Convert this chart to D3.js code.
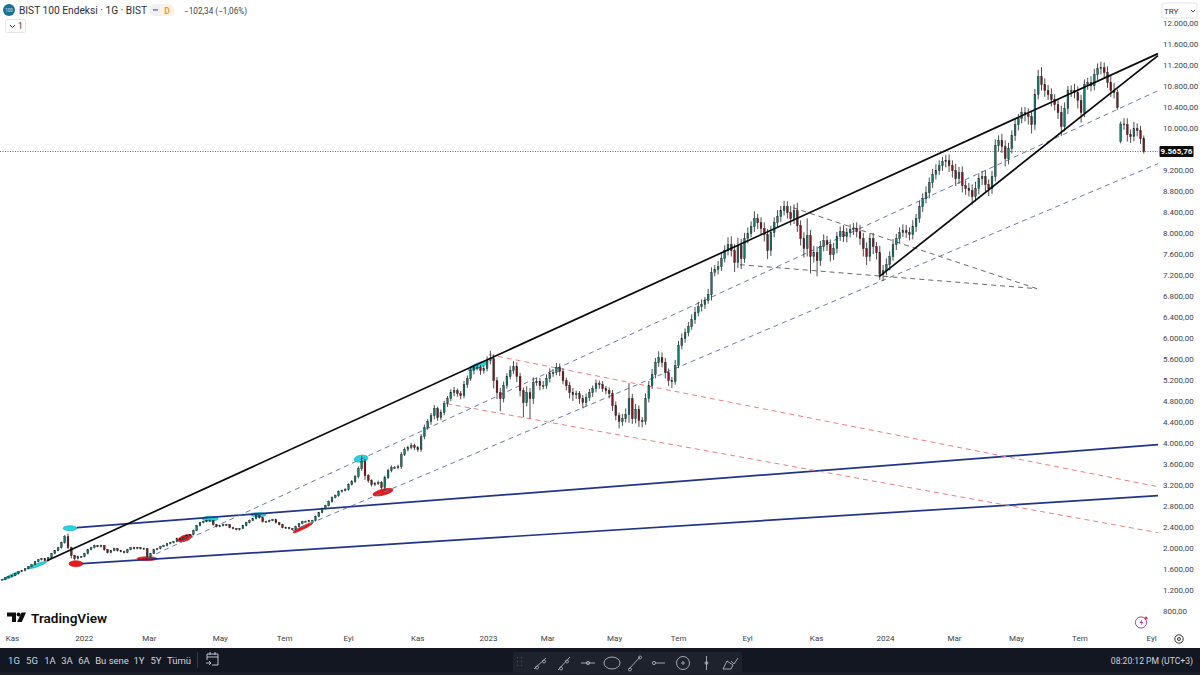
<!DOCTYPE html>
<html>
<head>
<meta charset="utf-8">
<style>
    html, body { margin: 0; padding: 0; background: #fff; }
    svg { display: block; font-family: Roboto, sans-serif; }
    .axis path, .axis line { display: none; }
    .axis text { fill: #3c3f47; font-size: 8px; font-family: Roboto, sans-serif; }
</style>
<script src="https://cdn.jsdelivr.net/npm/d3@7/dist/d3.min.js"></script>
</head>
<body>
<svg width="1200" height="675"></svg>
<script>
// closes, one candle every few sessions
var closes = [
    1410,1448,1467,1486,1524,1562,1581,1619,1658,1696,1753,1791,1810,1772,1829,1905,1962,2019,2115,2229,
    2019,1867,1810,1848,1848,1905,1981,2019,2057,2038,2057,1981,1924,1962,2000,1962,1943,1924,1981,2019,
    2000,2019,2000,2000,1848,1905,1981,2000,2038,2057,2095,2114,2133,2191,2172,2210,2248,2267,2343,2438,
    2496,2515,2534,2534,2457,2419,2438,2457,2457,2400,2381,2362,2381,2438,2496,2534,2572,2629,2591,2515,
    2515,2534,2553,2496,2457,2400,2400,2381,2362,2419,2477,2515,2515,2534,2534,2610,2686,2762,2819,2896,
    2972,3010,3086,3105,3124,3220,3277,3372,3524,3658,3391,3296,3220,3239,3258,3162,3353,3486,3543,3543,
    3562,3791,3886,3925,3962,3925,3886,4134,4305,4420,4534,4667,4496,4591,4763,4858,4972,5010,4953,4915,
    5124,5238,5391,5448,5448,5391,5429,5582,5620,5201,4972,4858,5105,5277,5391,5467,5277,5010,4782,4972,
    4858,5163,5182,5105,5105,5238,5334,5353,5448,5372,5201,5105,4972,4934,4953,4858,4782,4877,4972,5048,
    5143,5124,5048,5010,4953,4724,4534,4420,4477,4553,4858,4477,4648,4439,4420,4858,5105,5315,5544,5639,
    5544,5353,5201,5182,5487,5867,6001,6115,6229,6363,6496,6610,6648,6725,6839,7258,7315,7372,7525,7677,
    7791,7677,7449,7772,7525,7906,8001,8135,8287,8211,8096,7982,7677,8020,8211,8325,8439,8516,8401,8287,
    8439,8153,7906,7715,7963,7563,7639,7487,7753,7868,7791,7601,7715,7944,8039,7944,8020,8077,8096,8039,
    7906,7715,7563,7906,7753,7639,7220,7296,7411,7563,7791,7906,8020,8058,8020,7982,8135,8287,8516,8668,
    8782,8972,9125,9201,9296,9372,9392,9296,9201,9049,9163,8915,8858,8820,8706,8858,9049,9087,8934,8858,
    9087,9677,9773,9658,9430,9620,9868,10078,10192,10306,10268,10230,10078,10649,10992,10840,10725,10649,10554,10458,
    10306,10040,10382,10725,10725,10687,10535,10306,10840,10878,10820,11030,11144,11163,11068,10878,10725,10687,10400,10090,
    10078,9887,9849,10001,9963,9811,9565.76
];
var upperWicks = [
    8,10,8,12,10,8,14,10,12,8,14,10,12,16,10,14,12,16,20,30,
    60,20,14,18,12,16,14,16,18,12,20,14,12,16,18,12,14,18,16,12,
    14,16,12,20,10,14,16,12,14,18,12,16,14,20,12,16,18,14,20,16,
    18,14,16,20,12,14,18,16,12,14,16,12,14,18,16,20,14,30,18,20,
    16,20,14,18,12,14,18,16,12,20,14,16,18,14,16,20,18,22,16,24,
    26,20,24,18,30,24,28,30,40,110,50,30,26,34,40,30,40,36,44,30,
    40,50,44,36,50,40,30,50,60,46,50,70,40,60,56,50,64,70,40,50,
    70,60,80,50,70,50,60,80,150,80,70,90,80,70,90,110,80,70,60,120,
    90,100,80,70,90,80,100,70,90,80,70,60,70,90,60,50,70,80,70,60,
    80,60,70,50,60,70,80,60,90,120,300,90,110,80,70,100,90,110,90,120,
    100,90,80,70,110,90,100,80,90,100,110,90,100,70,110,100,90,110,120,100,
    140,160,120,150,130,110,120,100,140,90,100,120,110,130,100,120,90,110,100,130,
    120,150,100,120,330,110,130,120,110,120,90,100,110,90,100,120,90,100,110,120,
    130,110,120,100,110,90,130,110,120,100,110,90,100,120,110,100,120,90,110,100,
    120,100,110,120,100,90,110,120,100,130,110,120,100,110,120,130,100,110,120,100,
    110,120,100,130,120,110,100,120,90,100,110,120,100,110,130,180,120,110,120,100,
    110,130,120,90,100,130,120,110,100,90,120,110,100,110,100,120,130,150,60,50,
    110,120,100,130,100,90,60
];
var lowerWicks = [
    10,8,12,8,10,14,8,12,10,14,10,12,16,12,14,10,14,12,16,20,
    30,50,30,14,16,12,14,10,16,12,14,18,14,12,10,16,12,14,10,12,
    14,12,16,12,40,14,10,12,14,10,16,12,14,10,16,12,10,14,12,10,
    14,12,10,16,14,12,10,14,16,12,14,10,16,12,14,10,12,14,16,18,
    12,14,10,16,14,12,18,14,16,10,14,12,10,14,12,16,10,14,12,16,
    18,14,20,16,14,20,18,24,30,40,80,40,36,30,26,40,50,24,30,20,
    30,40,26,36,30,44,40,40,50,40,60,70,60,50,50,60,50,70,60,70,
    50,60,40,70,50,80,60,50,70,150,120,240,70,60,50,60,100,110,280,70,
    380,100,60,90,70,60,70,60,50,80,70,90,110,120,80,100,110,70,60,80,
    70,80,60,70,90,100,90,130,80,70,150,100,90,120,110,60,70,60,70,80,
    90,110,100,120,60,50,70,80,70,60,80,70,90,80,60,110,70,90,80,70,
    90,110,180,100,200,80,90,70,100,120,110,130,160,100,90,80,100,90,110,130,
    100,120,130,170,150,320,110,300,100,90,120,130,100,90,80,100,110,90,100,110,
    120,150,160,90,140,130,100,120,90,110,80,100,90,80,100,110,90,100,80,100,
    90,110,100,90,80,100,110,120,130,140,100,130,120,110,150,90,110,120,130,140,
    100,90,110,120,150,110,90,100,110,90,130,150,170,100,90,110,120,100,130,110,
    120,180,90,100,120,110,150,190,90,100,110,90,100,110,120,100,120,110,40,40,
    100,130,120,90,110,100,40
];
var gapBar = 339, gapOpen = 9760;

// 9.600,00 sits under the last-price label, the chart does not print it
var priceTicks = d3.range(800, 12001, 400).filter(function (d) { return d != 9600; });
var monthBars = [3,24.8,44.5,66,85.5,104.9,125.8,147.3,165.2,185.5,204.9,225.8,246.7,267.6,288.5,307.3,326.5,348.2];
var monthLabels = ['Kas','2022','Mar','May','Tem','Eyl','Kas','2023','Mar','May','Tem','Eyl','Kas','2024','Mar','May','Tem','Eyl'];

// drawings as [barA, priceA, barB, priceB]
var blackLines = [[13.6,1772,350.3,11430],[265.8,7182,350.3,11392]];
var navyLines = [[22.7,2400,350.3,3981],[24.2,1714,350.3,3010]];
var blueDashed = [[44.2,1829,350.3,10725],[88.2,2343,350.3,9335]];
var redDashed = [[147.6,5696,350.3,3181],[134.8,4762,350.3,2305]];
var greyDashed = [[239.7,8496,313.6,6953],[223.6,7410,313.6,6953]];
// ellipses as [barA, priceA, barB, priceB, half height in price]
var cyanEllipses = [
    [0.3,1410,5.5,1562,25],[7.6,1619,13.6,1753,30],[18.5,2390,22.7,2390,48],[60.6,2570,65.5,2570,48],
    [75.2,2648,80,2648,40],[106.7,3696,110.9,3734,66],[141.2,5410,147.3,5562,48]
];
var redEllipses = [
    [20.3,1714,24.5,1714,57],[40.9,1810,47,1810,38],[53.3,2153,57.6,2248,57],[88.2,2305,94.2,2495,30],[112.4,3029,118.5,3124,57]
];

var rangeButtons = [['1G',14],['5G',32],['1A',50],['3A',67],['6A',84],['Bu sene',112],['1Y',139],['5Y',156],['Tümü',179]];

var svg = d3.select('svg');
var x = d3.scaleLinear().domain([0, closes.length - 1]).range([2, 1143.8]);
var y = d3.scaleLinear().domain([800, 12000]).range([611.7, 23.7]);
var tr = d3.formatLocale({decimal: ',', thousands: '.', grouping: [3], currency: ['', '']}).format(',.2f');

var upColor = '#17796f', downColor = '#7f1820', wickColor = '#3a3a3a';

var candles = closes.map(function (c, i) {
    var o = i == gapBar ? gapOpen : (i == 0 ? c : closes[i - 1]);
    return {
        i: i, o: o, c: c,
        h: Math.max(o, c) + upperWicks[i],
        l: Math.min(o, c) - lowerWicks[i]
    };
});

function drawEllipses(data, fill, edge) {
    svg.append('g').selectAll('ellipse').data(data).enter().append('ellipse')
        .attr('transform', function (d) {
            var ax = x(d[0]), ay = y(d[1]), bx = x(d[2]), by = y(d[3]);
            var deg = Math.atan2(by - ay, bx - ax) * 180 / Math.PI;
            return 'translate(' + (ax + bx) / 2 + ',' + (ay + by) / 2 + ') rotate(' + deg + ')';
        })
        .attr('rx', function (d) { return Math.hypot(x(d[2]) - x(d[0]), y(d[3]) - y(d[1])) / 2; })
        .attr('ry', function (d) { return y(0) - y(d[4]); })
        .style('fill', fill)
        .style('stroke', edge)
        .style('stroke-width', 0.6);
}

function drawLines(data, color, width, dash) {
    svg.append('g').selectAll('line').data(data).enter().append('line')
        .attr('x1', function (d) { return x(d[0]); })
        .attr('y1', function (d) { return y(d[1]); })
        .attr('x2', function (d) { return x(d[2]); })
        .attr('y2', function (d) { return y(d[3]); })
        .style('stroke', color)
        .style('stroke-width', width)
        .style('stroke-dasharray', dash);
}

drawEllipses(cyanEllipses, '#27d3dc', '#1aa9b3');
drawEllipses(redEllipses, '#e8191c', '#c91518');

drawLines(navyLines, '#1f3585', 1.7, null);
drawLines(redDashed, '#ea7f80', 1, '5 4');
drawLines(greyDashed, '#6a6a70', 1, '5 4');
drawLines(blueDashed, '#6a78b0', 1, '5 4');

// price line
svg.append('line')
    .attr('x1', 0).attr('x2', 1158)
    .attr('y1', y(closes[closes.length - 1])).attr('y2', y(closes[closes.length - 1]))
    .style('stroke', '#666')
    .style('stroke-dasharray', '1 1.5');

var bar = svg.append('g').selectAll('g').data(candles).enter().append('g');
bar.append('line')
    .attr('x1', function (d) { return x(d.i); })
    .attr('x2', function (d) { return x(d.i); })
    .attr('y1', function (d) { return y(d.h); })
    .attr('y2', function (d) { return y(d.l); })
    .style('stroke', wickColor)
    .style('stroke-width', 0.9);
bar.append('rect')
    .attr('x', function (d) { return x(d.i) - 0.9; })
    .attr('width', 1.8)
    .attr('y', function (d) { return y(Math.max(d.o, d.c)); })
    .attr('height', function (d) { return Math.max(0.8, Math.abs(y(d.o) - y(d.c))); })
    .style('fill', function (d) { return d.c >= d.o ? upColor : downColor; })
    .style('stroke', '#111')
    .style('stroke-width', 0.35);

drawLines(blackLines, '#0a0a0a', 1.7, null);

// axes
svg.append('g').attr('class', 'axis')
    .attr('transform', 'translate(1158,-1)')
    .call(d3.axisRight(y).tickValues(priceTicks).tickFormat(tr).tickSize(0).tickPadding(5));
svg.append('g').attr('class', 'axis')
    .attr('transform', 'translate(0,631)')
    .call(d3.axisBottom(x).tickValues(monthBars).tickFormat(function (d, i) { return monthLabels[i]; }).tickSize(0).tickPadding(4));

// last price label
svg.append('rect').attr('x', 1159.5).attr('y', y(9565.76) - 5.5).attr('width', 34).attr('height', 11).attr('rx', 1).style('fill', '#0b0b0b');
svg.append('text').attr('x', 1176.5).attr('y', y(9565.76) + 3)
    .attr('text-anchor', 'middle').style('fill', '#fff').style('font-size', '8px').style('font-weight', 700)
    .text(tr(closes[closes.length - 1]));

// currency box
svg.append('rect').attr('x', 1162).attr('y', 3).attr('width', 35).attr('height', 15).attr('rx', 2)
    .style('fill', '#fff').style('stroke', '#e2e3e6');
svg.append('text').attr('x', 1164).attr('y', 13.5).style('font-size', '8px').style('fill', '#333').text('TRY');
svg.append('path').attr('d', 'M1191 10l2 2 2-2').style('fill', 'none').style('stroke', '#444');

// header
svg.append('circle').attr('cx', 9).attr('cy', 10).attr('r', 6).style('fill', '#1b6f93');
svg.append('text').attr('x', 9).attr('y', 11.5).attr('text-anchor', 'middle').style('font-size', '4.5px').style('fill', '#cfe6f0').text('100');
svg.append('text').attr('x', 19).attr('y', 14).style('font-size', '10.2px').style('fill', '#2a2e39').text('BIST 100 Endeksi · 1G · BIST');
svg.append('rect').attr('x', 149).attr('y', 4).attr('width', 25).attr('height', 12).attr('rx', 6).style('fill', '#eef0f3');
svg.append('rect').attr('x', 160).attr('y', 4).attr('width', 14).attr('height', 12).attr('rx', 6).style('fill', '#fdf1e0');
svg.append('rect').attr('x', 153).attr('y', 9).attr('width', 5).attr('height', 1.8).style('fill', '#8a8e99');
svg.append('text').attr('x', 167).attr('y', 13.5).attr('text-anchor', 'middle').style('font-size', '8.5px').style('font-weight', 600).style('fill', '#f0932b').text('D');
svg.append('text').attr('x', 184).attr('y', 13.5).style('font-size', '8.2px').style('fill', '#3c3f47').text('−102,34 (−1,06%)');
svg.append('rect').attr('x', 5.5).attr('y', 19.5).attr('width', 20).attr('height', 13).attr('rx', 2).style('fill', '#fff').style('stroke', '#e2e3e6');
svg.append('path').attr('d', 'M10 25l2.5 2.5 2.5-2.5').style('fill', 'none').style('stroke', '#333');
svg.append('text').attr('x', 18).attr('y', 29).style('font-size', '8.5px').style('fill', '#333').text('1');

// TradingView logo
var logo = svg.append('g').attr('transform', 'translate(7,612.5)').style('fill', '#0f0f0f');
logo.append('path').attr('d', 'M0 0h9v9.5h-4v-5.5h-5z');
logo.append('circle').attr('cx', 11.6).attr('cy', 2).attr('r', 2);
logo.append('path').attr('d', 'M14.5 0h4.5l-4.2 9.5h-4.7z');
svg.append('text').attr('x', 31).attr('y', 622.5).style('font-size', '13.6px').style('font-weight', 600).style('fill', '#0f0f0f').text('TradingView');

// flash + settings icons
svg.append('circle').attr('cx', 1141).attr('cy', 622.5).attr('r', 5.6).style('fill', '#fff').style('stroke', '#9c3fb5').style('stroke-width', 1);
svg.append('path').attr('d', 'M1142.5 619l-3 4h2l-1 3 3-4h-2z').style('fill', '#9c3fb5');
svg.append('circle').attr('cx', 1146).attr('cy', 618).attr('r', 1.6).style('fill', '#e8365d');
svg.append('circle').attr('cx', 1179).attr('cy', 639).attr('r', 4.2).style('fill', 'none').style('stroke', '#333');
svg.append('circle').attr('cx', 1179).attr('cy', 639).attr('r', 1.5).style('fill', 'none').style('stroke', '#333');

// bottom bar
svg.append('rect').attr('x', 0).attr('y', 648).attr('width', 1200).attr('height', 24).style('fill', '#131722');
svg.append('rect').attr('x', 0).attr('y', 672).attr('width', 1200).attr('height', 3).style('fill', '#1a1e2a');
svg.append('g').selectAll('text').data(rangeButtons).enter().append('text')
    .attr('x', function (d) { return d[1]; })
    .attr('y', 664)
    .attr('text-anchor', 'middle')
    .style('font-size', '9.5px')
    .style('fill', '#d1d4dc')
    .text(function (d) { return d[0]; });
svg.append('line').attr('x1', 197.5).attr('x2', 197.5).attr('y1', 652).attr('y2', 668).style('stroke', '#363a45');
svg.append('path').attr('d', 'M207 660v-6h11v11h-6M207 657h11M210 652v3M215 652v3M206 663h5m-2-2l2 2-2 2')
    .style('fill', 'none').style('stroke', '#d1d4dc').style('stroke-width', 0.9);
svg.append('text').attr('x', 1193).attr('y', 664).attr('text-anchor', 'end').style('font-size', '8.6px').style('fill', '#d1d4dc').text('08:20:12 PM (UTC+3)');

// drawing toolbar
svg.append('rect').attr('x', 513).attr('y', 652).attr('width', 229).attr('height', 21).attr('rx', 2).style('fill', '#1e222d');
var tools = svg.append('g').style('fill', 'none').style('stroke', '#b2b5be').style('stroke-width', 0.9);
[517, 521].forEach(function (gx) {
    [657, 661, 665].forEach(function (gy) {
        tools.append('rect').attr('x', gx).attr('y', gy).attr('width', 1).attr('height', 1).style('stroke', 'none').style('fill', '#50535e');
    });
});
tools.append('path').attr('d', 'M534 669l12-11M537 666a1.5 1.5 0 1 0 .01 0M544 660a1.5 1.5 0 1 0 .01 0');
tools.append('path').attr('d', 'M558 670l12-13M561 667a1.5 1.5 0 1 0 .01 0M567 660a1.5 1.5 0 1 0 .01 0');
tools.append('path').attr('d', 'M581 663h14');
tools.append('circle').attr('cx', 588).attr('cy', 663).attr('r', 1.6);
tools.append('ellipse').attr('cx', 612).attr('cy', 663).attr('rx', 8).attr('ry', 6);
tools.append('path').attr('d', 'M629 669l11-12M630 668a1.5 1.5 0 1 0 .01 0M640 656a1.5 1.5 0 1 0 .01 0');
tools.append('path').attr('d', 'M656 663h9');
tools.append('circle').attr('cx', 654).attr('cy', 663).attr('r', 1.6);
tools.append('circle').attr('cx', 683).attr('cy', 663).attr('r', 6.5);
tools.append('circle').attr('cx', 683).attr('cy', 663).attr('r', 1.2);
tools.append('path').attr('d', 'M706.5 656v14');
tools.append('circle').attr('cx', 706.5).attr('cy', 663).attr('r', 1.4);
tools.append('path').attr('d', 'M723 669l4-8 6 4-2 4zM731 661l3 3 4-6');
</script>
</body>
</html>
